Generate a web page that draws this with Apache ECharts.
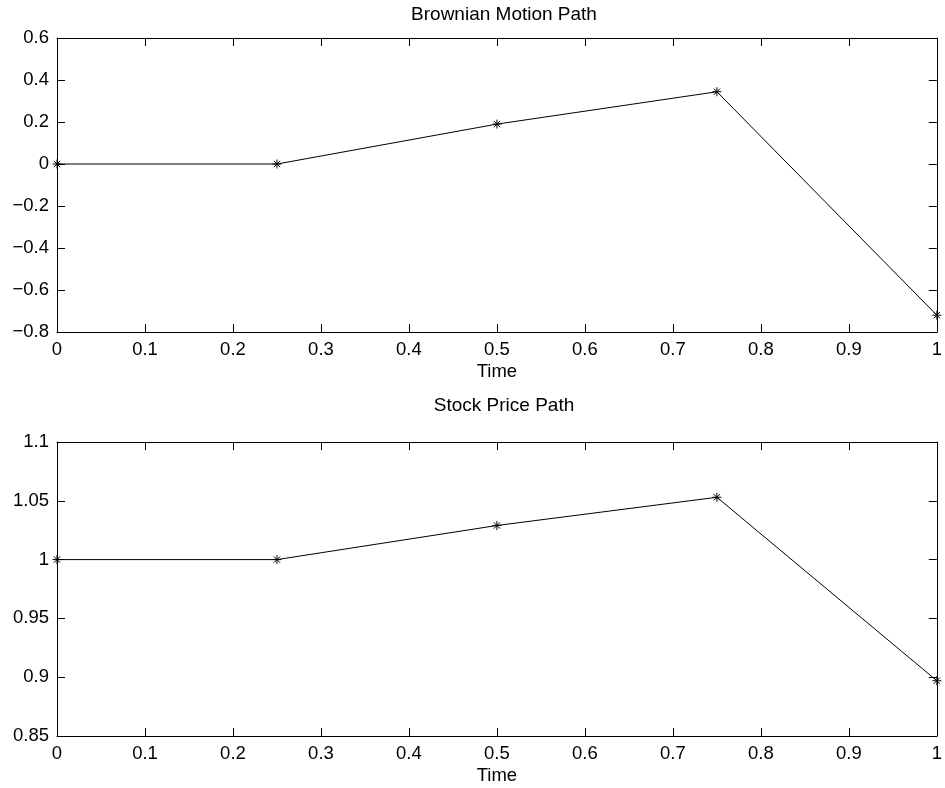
<!DOCTYPE html>
<html>
<head>
<meta charset="utf-8">
<script src="https://cdn.jsdelivr.net/npm/echarts@6/dist/echarts.min.js"></script>
<style>
  html, body { margin: 0; padding: 0; background: #fff; }
  #chart { width: 945px; height: 788px; }
</style>
</head>
<body>
<div id="chart"></div>
<script>
'use strict'

const timePoints = [0, 0.25, 0.5, 0.75, 1]
const brownianPath = [0, 0, 0.19, 0.344, -0.72]
const stockPath = [1, 1, 1.029, 1.053, 0.897]
const titles = ['Brownian Motion Path', 'Stock Price Path']
const xLabelName = 'Time'

const FONT = "'Liberation Sans', Arial, Helvetica, sans-serif"
const FS = 18.5
// asterisk marker, stroked only
const STAR = 'path://M5 0L5 10M0 5L10 5M1.5 1.5L8.5 8.5M8.5 1.5L1.5 8.5'

const chart = echarts.init(document.getElementById('chart'), null, { renderer: 'canvas' })

const grids = [
  { left: 57, top: 38, width: 884, height: 294 },
  { left: 57, top: 442, width: 884, height: 294 }
]
const yRanges = [
  { min: -0.8, max: 0.6, interval: 0.2 },
  { min: 0.85, max: 1.1, interval: 0.05 }
]

function minusFmt (v) {
  const s = String(+v.toFixed(4))
  return s.replace('-', '\u2212')
}

const xAxis = []
const yAxis = []
grids.forEach((g, i) => {
  const common = {
    gridIndex: i,
    type: 'value',
    axisLine: { show: true, onZero: false, lineStyle: { color: '#000', width: 1 } },
    axisTick: { show: true, inside: true, length: 8, lineStyle: { color: '#000', width: 1 } },
    splitLine: { show: false }
  }
  xAxis.push(Object.assign({}, common, {
    position: 'bottom', min: 0, max: 1, interval: 0.1,
    name: xLabelName, nameLocation: 'middle', nameGap: 30,
    nameTextStyle: { color: '#000', fontSize: FS, fontFamily: FONT },
    axisLabel: { color: '#000', fontSize: FS, fontFamily: FONT, margin: 8, formatter: minusFmt }
  }))
  xAxis.push(Object.assign({}, common, {
    position: 'top', min: 0, max: 1, interval: 0.1,
    axisLabel: { show: false }
  }))
  yAxis.push(Object.assign({}, common, yRanges[i], {
    position: 'left',
    axisLabel: { color: '#000', fontSize: FS, fontFamily: FONT, margin: 8, formatter: minusFmt }
  }))
  yAxis.push(Object.assign({}, common, yRanges[i], {
    position: 'right',
    axisLabel: { show: false }
  }))
})

function makeSeries (values, i) {
  return {
    type: 'line',
    xAxisIndex: i * 2,
    yAxisIndex: i * 2,
    data: timePoints.map((t, k) => [t, values[k]]),
    symbol: STAR,
    symbolSize: 9,
    showAllSymbol: true,
    clip: false,
    itemStyle: { color: 'transparent', borderColor: '#000', borderWidth: 1 },
    lineStyle: { color: '#000', width: 1 },
    emphasis: { disabled: true },
    animation: false
  }
}

const option = {
  backgroundColor: '#fff',
  animation: false,
  title: titles.map((t, i) => ({
    text: t,
    left: 57 + 442,
    textAlign: 'center',
    top: i === 0 ? 0 : 391,
    textStyle: { color: '#000', fontSize: 19, fontWeight: 'normal', fontFamily: FONT }
  })),
  grid: grids,
  xAxis,
  yAxis,
  series: [makeSeries(brownianPath, 0), makeSeries(stockPath, 1)]
}
chart.setOption(option)
</script>
</body>
</html>
